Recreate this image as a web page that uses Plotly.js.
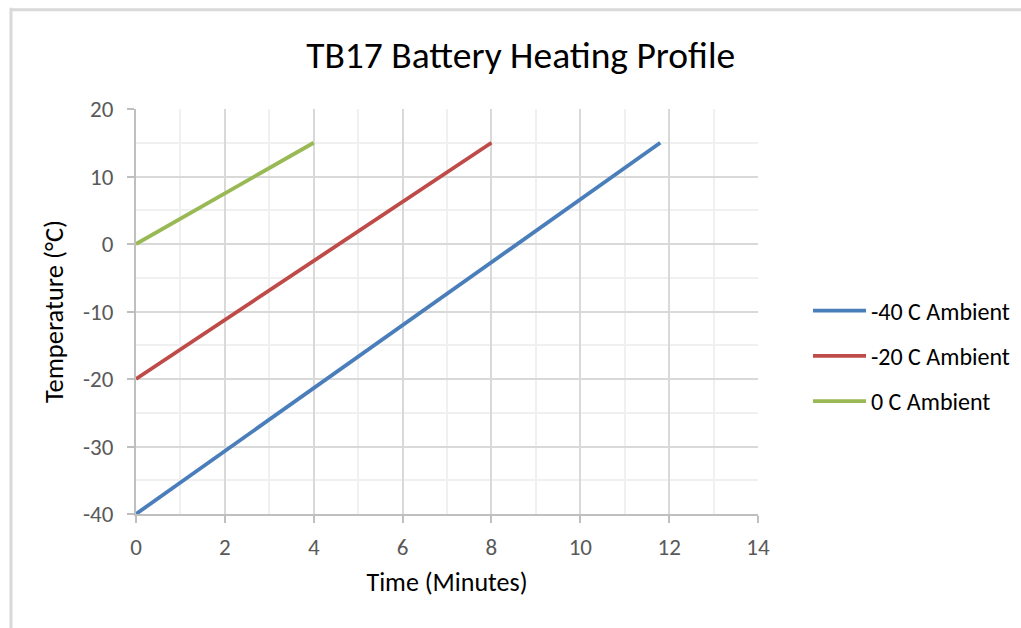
<!DOCTYPE html>
<html><head><meta charset="utf-8">
<script src="https://cdn.plot.ly/plotly-3.0.1.min.js"></script>
<style>body{margin:0;background:#fff}#chart{width:1021px;height:628px}</style>
</head><body><div id="chart"></div>
<script>
const seriesNames = ['-40 C Ambient', '-20 C Ambient', '0 C Ambient'];
const seriesColors = ['#4a7ebb', '#be4b48', '#98b954'];
const timeMinutes = [[0, 11.8], [0, 8], [0, 4]];
const temperatureC = [[-40, 15], [-20, 15], [0, 15]];
const xTicks = [0, 2, 4, 6, 8, 10, 12, 14];
const yTicks = [-40, -30, -20, -10, 0, 10, 20];

const font = "Calibri, Carlito, 'Open Sans', sans-serif";
const traces = seriesNames.map((n, i) => ({
  type: 'scatter', mode: 'lines', name: n, legendgroup: 'g' + i,
  x: timeMinutes[i], y: temperatureC[i],
  line: {color: seriesColors[i], width: 3.8}
}));

const layout = {
  width: 1021, height: 628,
  margin: {l: 136, r: 263, t: 109, b: 114},
  paper_bgcolor: '#fff', plot_bgcolor: '#fff',
  font: {family: font, color: '#595959'},
  title: {text: 'TB17 Battery Heating Profile', font: {size: 37.5, color: '#000', family: font}, x: 0.51, xanchor: 'center', y: 0.912, yanchor: 'middle'},
  xaxis: {
    range: [0, 14], tickvals: xTicks, ticktext: xTicks.map(String),
    showline: true, linecolor: '#bfbfbf', linewidth: 2,
    ticks: 'outside', ticklen: 7, tickcolor: '#bfbfbf', tickwidth: 2,
    gridcolor: '#d9d9d9', gridwidth: 2, zeroline: false,
    minor: {dtick: 1, showgrid: true, gridcolor: '#f0f0f0', gridwidth: 2},
    tickfont: {size: 23, color: '#595959'}, ticklabelstandoff: 4,
    title: {text: 'Time (Minutes)', font: {size: 26, color: '#000'}, standoff: 13}
  },
  yaxis: {
    range: [-40, 20], tickvals: yTicks, ticktext: yTicks.map(String),
    showline: true, linecolor: '#bfbfbf', linewidth: 2,
    ticks: 'outside', ticklen: 7, tickcolor: '#bfbfbf', tickwidth: 2,
    gridcolor: '#d9d9d9', gridwidth: 2, zeroline: false,
    minor: {dtick: 5, showgrid: true, gridcolor: '#f0f0f0', gridwidth: 2},
    tickfont: {size: 23, color: '#595959'}, ticklabelstandoff: 9,
    title: {text: 'Temperature (°C)', font: {size: 26.5, color: '#000'}, standoff: 12}
  },
  legend: {
    xref: 'container', yref: 'container',
    x: 0.7914, xanchor: 'left', y: 0.433, yanchor: 'middle',
    font: {size: 24, color: '#000'}, itemwidth: 53, tracegroupgap: 11,
    traceorder: 'grouped', bgcolor: 'rgba(0,0,0,0)'
  },
  shapes: [
    {type: 'line', xref: 'paper', yref: 'paper', x0: -0.201, x1: -0.201, y0: -0.3, y1: 1.25, line: {color: '#d9d9d9', width: 3}},
    {type: 'line', xref: 'paper', yref: 'paper', x0: -0.201, x1: 1.45, y0: 1.245, y1: 1.245, line: {color: '#d9d9d9', width: 3}}
  ],
  showlegend: true
};
Plotly.newPlot('chart', traces, layout, {displayModeBar: false, staticPlot: true});
</script></body></html>
